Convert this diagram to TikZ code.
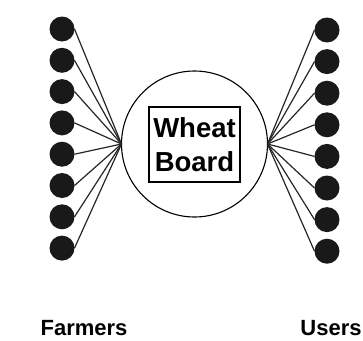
\documentclass[tikz,border=0pt]{standalone}
\usepackage{fontspec}
\setmainfont{Liberation Sans}
\begin{document}
\begin{tikzpicture}[x=1pt, y=-1pt, font=\bfseries, line join=miter,
    dot/.style={circle, fill=black!90, minimum size=25pt, inner sep=0pt, outer sep=0pt},
    link/.style={line width=1.2pt, draw=black!85},
    hubring/.style={circle, draw, line width=1.1pt, minimum size=146pt, inner sep=0pt, outer sep=0pt},
    namebox/.style={draw, line width=1.3pt, minimum width=91pt, minimum height=75pt, inner sep=0pt, align=center, font=\bfseries\fontsize{27.5}{34}\selectfont},
    caption/.style={anchor=base, font=\bfseries\fontsize{22}{26}\selectfont}]
        \useasboundingbox (0, 0) rectangle (363, 340);
        \node[hubring] (hub) at (194.5, 144) {};
        \node[namebox] (wb) at (194.5, 144.5) {Wheat\\Board};
        \foreach \i in {1,...,8} {
            \node[dot] (f\i) at (62, {29 + 31.3*(\i-1)}) {};
            \node[dot] (u\i) at (327, {30 + 31.6*(\i-1)}) {};
            \draw[link] (f\i.east) -- (hub.west);
            \draw[link] (u\i.west) -- (hub.east);
        }
        \node[caption] (farmers) at (84, 335) {Farmers};
        \node[caption] (users) at (331, 335) {Users};
    \end{tikzpicture}
\end{document}
